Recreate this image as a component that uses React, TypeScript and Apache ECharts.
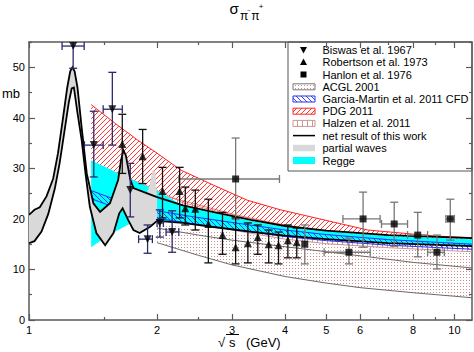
import React, { useEffect, useRef } from "react";
import * as echarts from "echarts";

const FONT = "'Liberation Sans', Arial, sans-serif";

// axis ticks (sqrt(s) in GeV, sigma in mb)
const xMajorTicks = [1, 2, 3, 4, 5, 6, 8, 10];
const xMinorTicks = [1.5, 2.5, 7, 9];
const yMajorTicks = [0, 10, 20, 30, 40, 50];
const yMinorTicks = [5, 15, 25, 35, 45, 55];
const xMin = 1;
const xMax = 11;
const yMax = 55;

// data points: [sqrt(s), sigma, sigmaLow, sigmaHigh, xLow, xHigh]
const biswas = [
  [1.27, 54.2, 49.8, 58.5, 1.196, 1.348],
  [1.42, 34.6, 28.3, 41.3, 1.35, 1.494],
  [1.57, 41.7, 34.6, 49.0, 1.494, 1.657],
  [1.73, 25.7, 20.4, 31.0, 1.73, 1.73],
  [1.9, 16.0, 13.2, 18.8, 1.81, 1.95],
  [2.03, 19.2, 16.4, 21.8, 2.0, 2.07],
  [2.17, 17.4, 13.4, 21.6, 2.1, 2.25],
];
const robertson = [
  [1.657, 34.8, 29.0, 40.7],
  [1.85, 32.4, 27.0, 37.7],
  [2.06, 25.5, 20.2, 30.2],
  [2.26, 25.5, 20.2, 30.2],
  [2.33, 22.1, 18.8, 26.3],
  [2.46, 22.0, 17.8, 25.7],
  [2.64, 19.0, 11.3, 23.9],
  [2.85, 16.8, 13.0, 21.3],
  [3.06, 14.4, 11.1, 20.2],
  [3.27, 15.2, 11.3, 19.2],
  [3.45, 16.4, 13.0, 18.8],
  [3.66, 15.0, 11.3, 17.8],
  [3.86, 14.8, 11.1, 17.4],
  [4.06, 15.8, 12.3, 18.8],
  [4.26, 15.4, 12.3, 18.2],
];
const hanlon = [
  [3.06, 27.9, 19.9, 36.0, 2.25, 3.88],
  [4.45, 15.0, 11.1, 18.8, 4.45, 4.45],
  [5.65, 13.4, 11.1, 16.2, 4.94, 6.34],
  [6.1, 20.0, 14.4, 25.3, 5.47, 6.69],
  [7.22, 19.0, 14.6, 23.3, 6.74, 7.76],
  [8.2, 16.8, 12.5, 21.3, 7.76, 8.65],
  [9.1, 13.4, 10.1, 16.8, 8.65, 9.47],
  [9.78, 20.0, 15.8, 23.9, 9.55, 10.0],
];

// bands: [sqrt(s), sigma]
const partialUpper = [
  [1.0, 20.8], [1.03, 21.8], [1.06, 22.3], [1.1, 24.5], [1.14, 28], [1.17, 33], [1.2, 39.5],
  [1.23, 46], [1.25, 49.2], [1.265, 50], [1.28, 49.2], [1.3, 46], [1.33, 38], [1.367, 29],
  [1.417, 23.1], [1.469, 21.4], [1.55, 23.1], [1.62, 27.7], [1.645, 31.5], [1.667, 33.6],
  [1.69, 32.5], [1.73, 27.8], [1.76, 26.1], [1.89, 25.1], [2.0, 24.3],
];
const partialLower = [
  [1.0, 15.2], [1.03, 15.6], [1.07, 17.5], [1.11, 21], [1.15, 26], [1.18, 31], [1.21, 37],
  [1.24, 43], [1.26, 45.8], [1.275, 46], [1.3, 41], [1.33, 35.6], [1.36, 28.5], [1.39, 22.4],
  [1.44, 17.2], [1.51, 14.8], [1.58, 17.2], [1.63, 21.1], [1.66, 22.1], [1.71, 19.8],
  [1.76, 17.8], [1.82, 17.2], [1.93, 18.5], [2.0, 19.6],
];
const partialSpikeUpper = [
  [1.89, 25.1], [1.92, 26.5], [1.95, 29.7], [1.98, 29.5], [2.0, 24.3],
];
const partialSpikeLower = [
  [1.89, 25.1], [2.0, 24.3],
];
const netUpper = [
  [2.0, 24.3], [2.3, 22.7], [2.77, 21.2], [3.32, 19.8], [4, 18.6], [5, 17.7], [7, 16.8], [11, 16.2],
];
const netLower = [
  [2.0, 19.6], [2.3, 19.2], [2.77, 18.3], [3.32, 17.5], [4, 16.7], [5, 16], [7, 15.2], [11, 14.6],
];
const reggeUpper = [
  [1.4, 31.6], [1.6, 29.3], [1.8, 27.3], [2.0, 25.6], [2.3, 22.6],
  [2.77, 21], [3.32, 19.6], [4, 18.4], [5, 17.5], [7, 16.6], [11, 16.0],
];
const reggeLower = [
  [1.4, 14.4], [1.52, 16.5], [1.73, 19.1], [2.0, 19.6], [2.3, 19.3], [2.77, 18.4],
  [3.32, 17.6], [4, 16.8], [5, 16.1], [7, 15.3], [11, 14.7],
];
const pdgUpper = [
  [1.4, 42.6], [1.6, 38.8], [1.8, 35.6], [2.0, 33], [2.27, 29.7], [2.71, 26.7], [3.26, 23.7],
  [3.9, 21.8], [4.6, 20.4], [6.26, 17.8], [9, 16.6], [11, 16.3],
];
const pdgLower = [
  [1.4, 31.2], [1.6, 29], [1.9, 26.5], [2.3, 23.2], [3, 20.8], [4, 18.8], [5, 17.4], [7, 16.4], [11, 15.6],
];
const garciaUpper = [
  [1.4, 25.6], [1.6, 23.8], [1.8, 22.5], [2.0, 21.6], [2.4, 20.5], [3, 19.3], [4, 17.8], [5, 16.9],
  [7, 15.9], [11, 15.0],
];
const garciaLower = [
  [1.4, 24.0], [1.6, 22.2], [1.8, 21.0], [2.0, 20.1], [2.4, 19.1], [3, 17.9], [4, 16.5], [5, 15.7],
  [7, 14.8], [11, 14.0],
];
const halzenUpper = [
  [1.4, 29.6], [1.6, 28], [1.8, 26.3], [2.0, 24.9], [2.4, 23.2], [3, 21], [4, 18.6], [5, 17.4], [7, 16.2], [11, 15.2],
];
const halzenLower = [
  [1.4, 24.6], [1.6, 23.6], [1.8, 22.6], [2.0, 21.9], [2.4, 19.8], [3, 17.8], [4, 16], [5, 15.1], [7, 14.3], [11, 13.5],
];
const acglUpper = [
  [2.0, 19], [3, 17.3], [4, 16], [5, 15.2], [7, 14.3], [11, 13.4],
];
const acglMiddle = [
  [2.0, 18.2], [2.5, 16.8], [3, 15.8], [4, 14.5], [5, 13.5], [6, 12.7], [8, 11.4], [11, 10.3],
];
const acglLower = [
  [2.0, 15.3], [2.5, 12.8], [3, 10.9], [4, 8.6], [5, 7.3], [6, 6.4], [8, 5.4], [10, 4.7], [11, 4.4],
];

const legendLabels = [
  "Biswas et al. 1967",
  "Robertson et al. 1973",
  "Hanlon et al. 1976",
  "ACGL 2001",
  "Garcia-Martin et al. 2011 CFD",
  "PDG 2011",
  "Halzen et al. 2011",
  "net result of this work",
  "partial waves",
  "Regge",
];

const lg = (v: number) => Math.log10(v);

function makePattern(size: number, draw: (ctx: CanvasRenderingContext2D) => void) {
  const c = document.createElement("canvas");
  c.width = size;
  c.height = size;
  const ctx = c.getContext("2d")!;
  draw(ctx);
  return { image: c.toDataURL(), repeat: "repeat", imageWidth: size, imageHeight: size };
}

function buildPatterns() {
  const red = makePattern(5, (ctx) => {
    ctx.strokeStyle = "#ff2020";
    ctx.lineWidth = 0.9;
    ctx.beginPath();
    ctx.moveTo(-1, 6); ctx.lineTo(6, -1);
    ctx.moveTo(-1, 1); ctx.lineTo(1, -1);
    ctx.moveTo(4, 6); ctx.lineTo(6, 4);
    ctx.stroke();
  });
  const blue = makePattern(5, (ctx) => {
    ctx.strokeStyle = "#2030ff";
    ctx.lineWidth = 0.9;
    ctx.beginPath();
    ctx.moveTo(-1, -1); ctx.lineTo(6, 6);
    ctx.moveTo(4, -1); ctx.lineTo(6, 1);
    ctx.moveTo(-1, 4); ctx.lineTo(1, 6);
    ctx.stroke();
  });
  const vert = makePattern(5, (ctx) => {
    ctx.strokeStyle = "#c89696";
    ctx.lineWidth = 1;
    ctx.beginPath();
    ctx.moveTo(2.5, 0); ctx.lineTo(2.5, 5);
    ctx.stroke();
  });
  const dots = makePattern(3, (ctx) => {
    ctx.fillStyle = "#d08c8c";
    ctx.fillRect(1, 1, 1, 1);
  });
  return { red, blue, vert, dots };
}

type Edge = { color: string; width: number } | null;

function bandSeries(
  upper: number[][], lower: number[][], fill: any, edgeUp: Edge, edgeLo: Edge, z: number,
  extraLine?: { pts: number[][]; color: string; width: number }
) {
  return {
    type: "custom",
    coordinateSystem: "cartesian2d",
    xAxisIndex: 0,
    yAxisIndex: 0,
    clip: true,
    silent: true,
    z,
    data: [[0.5, 10]],
    renderItem: (_params: any, api: any) => {
      const up = upper.map(([x, y]) => api.coord([lg(x), y]));
      const lo = lower.map(([x, y]) => api.coord([lg(x), y]));
      const children: any[] = [];
      if (fill) {
        children.push({
          type: "polygon",
          shape: { points: up.concat(lo.slice().reverse()) },
          style: { fill, stroke: null },
        });
      }
      if (extraLine) {
        const ex = extraLine.pts.map(([x, y]) => api.coord([lg(x), y]));
        children.push({ type: "polyline", shape: { points: ex }, style: { fill: null, stroke: extraLine.color, lineWidth: extraLine.width } });
      }
      if (edgeUp) children.push({ type: "polyline", shape: { points: up }, style: { fill: null, stroke: edgeUp.color, lineWidth: edgeUp.width } });
      if (edgeLo) children.push({ type: "polyline", shape: { points: lo }, style: { fill: null, stroke: edgeLo.color, lineWidth: edgeLo.width } });
      return { type: "group", children };
    },
  };
}

function errorSeries(points: number[][], color: string, z: number) {
  const data = points.map((p) => [lg(p[0]), p[1], p[2], p[3], lg(p.length > 4 ? p[4] : p[0]), lg(p.length > 5 ? p[5] : p[0])]);
  return {
    type: "custom",
    coordinateSystem: "cartesian2d",
    xAxisIndex: 0,
    yAxisIndex: 0,
    clip: true,
    silent: true,
    z,
    data,
    renderItem: (_params: any, api: any) => {
      const x = api.value(0), y = api.value(1), lo = api.value(2), hi = api.value(3), xl = api.value(4), xh = api.value(5);
      const c = api.coord([x, y]);
      const pLo = api.coord([x, lo]);
      const pHi = api.coord([x, hi]);
      const st = { stroke: color, lineWidth: 1.3 };
      const cap = 4;
      const children: any[] = [
        { type: "line", shape: { x1: c[0], y1: pLo[1], x2: c[0], y2: pHi[1] }, style: st },
        { type: "line", shape: { x1: c[0] - cap, y1: pLo[1], x2: c[0] + cap, y2: pLo[1] }, style: st },
        { type: "line", shape: { x1: c[0] - cap, y1: pHi[1], x2: c[0] + cap, y2: pHi[1] }, style: st },
      ];
      if (xh > xl) {
        const a = api.coord([xl, y]);
        const b = api.coord([xh, y]);
        children.push(
          { type: "line", shape: { x1: a[0], y1: c[1], x2: b[0], y2: c[1] }, style: st },
          { type: "line", shape: { x1: a[0], y1: c[1] - cap, x2: a[0], y2: c[1] + cap }, style: st },
          { type: "line", shape: { x1: b[0], y1: c[1] - cap, x2: b[0], y2: c[1] + cap }, style: st }
        );
      }
      return { type: "group", children };
    },
  };
}

function xAxisDef(position: string, ticks: number[], len: number, labels: boolean, line: boolean) {
  return {
    type: "value",
    position,
    min: lg(xMin),
    max: lg(xMax),
    axisLine: { show: line, onZero: false, lineStyle: { color: "#5a5a5a", width: 1.5 } },
    axisTick: { show: true, inside: true, length: len, customValues: ticks.map(lg), lineStyle: { color: "#5a5a5a", width: 1.2 } },
    axisLabel: {
      show: labels,
      customValues: ticks.map(lg),
      formatter: (v: number) => String(Math.round(Math.pow(10, v))),
      color: "#000",
      fontSize: 11,
      fontFamily: FONT,
      margin: 4,
    },
    splitLine: { show: false },
  };
}

function yAxisDef(position: string, ticks: number[], len: number, labels: boolean, line: boolean) {
  return {
    type: "value",
    position,
    min: 0,
    max: yMax,
    axisLine: { show: line, onZero: false, lineStyle: { color: "#5a5a5a", width: 1.5 } },
    axisTick: { show: true, inside: true, length: len, customValues: ticks, lineStyle: { color: "#5a5a5a", width: 1.2 } },
    axisLabel: { show: labels, customValues: ticks, color: "#000", fontSize: 11, fontFamily: FONT, margin: 4 },
    splitLine: { show: false },
  };
}

export default function App() {
  const ref = useRef<HTMLDivElement>(null);
  useEffect(() => {
    document.body.style.margin = "0";
    const chart = echarts.init(ref.current!, null, { renderer: "svg" });
    const P = buildPatterns();

    const rowY = [50, 62, 74.5, 86.8, 99, 111.2, 123.4, 135.6, 147.8, 160.5];
    const symX = 303.5;
    const txtX = 322.5;
    const legendChildren: any[] = [
      { type: "rect", shape: { x: 288, y: 42, width: 184, height: 129 }, style: { fill: "#fff", stroke: "#555", lineWidth: 1 } },
      { type: "polygon", shape: { points: [[symX - 3.5, rowY[0] - 3], [symX + 3.5, rowY[0] - 3], [symX, rowY[0] + 3.5]] }, style: { fill: "#000" } },
      { type: "polygon", shape: { points: [[symX - 3.5, rowY[1] + 3], [symX + 3.5, rowY[1] + 3], [symX, rowY[1] - 3.5]] }, style: { fill: "#000" } },
      { type: "rect", shape: { x: symX - 3, y: rowY[2] - 3, width: 6, height: 6 }, style: { fill: "#000" } },
      { type: "rect", shape: { x: 293, y: rowY[3] - 3, width: 22, height: 6 }, style: { fill: P.dots, stroke: "#777", lineWidth: 1 } },
      { type: "rect", shape: { x: 293, y: rowY[4] - 3, width: 22, height: 6 }, style: { fill: P.blue, stroke: "#2030ff", lineWidth: 1 } },
      { type: "rect", shape: { x: 293, y: rowY[5] - 3, width: 22, height: 6 }, style: { fill: P.red, stroke: "#ff2020", lineWidth: 1 } },
      { type: "rect", shape: { x: 293, y: rowY[6] - 3, width: 22, height: 6 }, style: { fill: P.vert, stroke: "#c89696", lineWidth: 1 } },
      { type: "line", shape: { x1: 293, y1: rowY[7], x2: 315, y2: rowY[7] }, style: { stroke: "#000", lineWidth: 1.5 } },
      { type: "rect", shape: { x: 293, y: rowY[8] - 3, width: 22, height: 6.5 }, style: { fill: "#d9d9d9" } },
      { type: "rect", shape: { x: 293, y: rowY[9] - 3.5, width: 22, height: 7 }, style: { fill: "#00ffff" } },
    ];
    legendLabels.forEach((t, i) => {
      legendChildren.push({
        type: "text",
        style: { x: txtX, y: rowY[i], text: t, fill: "#000", font: `11px ${FONT}`, textVerticalAlign: "middle" },
      });
    });

    const option: any = {
      animation: false,
      backgroundColor: "#fff",
      grid: { left: 29, right: 2, top: 42, bottom: 32, containLabel: false },
      xAxis: [
        xAxisDef("bottom", xMajorTicks, 6, true, true),
        xAxisDef("bottom", xMinorTicks, 3, false, false),
        xAxisDef("top", xMajorTicks, 6, false, true),
        xAxisDef("top", xMinorTicks, 3, false, false),
      ],
      yAxis: [
        yAxisDef("left", yMajorTicks, 6, true, true),
        yAxisDef("left", yMinorTicks, 3, false, false),
        yAxisDef("right", yMajorTicks, 6, false, true),
        yAxisDef("right", yMinorTicks, 3, false, false),
      ],
      graphic: [
        { type: "text", z: 100, style: { x: 229.5, y: 8, text: "σ", fill: "#000", font: `15px ${FONT}`, textVerticalAlign: "middle" } },
        { type: "text", z: 100, style: { x: 240, y: 16.3, text: "π", fill: "#000", font: `12px ${FONT}`, textVerticalAlign: "middle" } },
        { type: "text", z: 100, style: { x: 247.3, y: 9.5, text: "−", fill: "#000", font: `6px ${FONT}`, textVerticalAlign: "middle" } },
        { type: "text", z: 100, style: { x: 251.3, y: 16.3, text: "π", fill: "#000", font: `12px ${FONT}`, textVerticalAlign: "middle" } },
        { type: "text", z: 100, style: { x: 258.8, y: 6.5, text: "+", fill: "#000", font: `8px ${FONT}`, textVerticalAlign: "middle" } },
        { type: "text", z: 100, style: { x: 2, y: 93, text: "mb", fill: "#000", font: `13px ${FONT}`, textVerticalAlign: "middle" } },
        { type: "text", z: 100, style: { x: 218, y: 342, text: "√", fill: "#000", font: `13px ${FONT}`, textVerticalAlign: "middle" } },
        { type: "line", z: 100, shape: { x1: 226, y1: 334.5, x2: 239, y2: 334.5 }, style: { stroke: "#000", lineWidth: 1 } },
        { type: "text", z: 100, style: { x: 229, y: 342, text: "s", fill: "#000", font: `13px ${FONT}`, textVerticalAlign: "middle" } },
        { type: "text", z: 100, style: { x: 246, y: 342, text: "(GeV)", fill: "#000", font: `13px ${FONT}`, textVerticalAlign: "middle" } },
        { type: "group", z: 100, children: legendChildren },
      ],
      series: [
        bandSeries(acglUpper, acglLower, P.dots, null, { color: "#6a6a6a", width: 1 }, 1, { pts: acglMiddle, color: "#6a6a6a", width: 1 }),
        bandSeries(halzenUpper, halzenLower, P.vert, { color: "#c89696", width: 1 }, { color: "#c89696", width: 1 }, 2),
        bandSeries(pdgUpper, pdgLower, P.red, { color: "#ff2020", width: 1 }, { color: "#ff6060", width: 0.8 }, 3),
        bandSeries(reggeUpper, reggeLower, "#00ffff", null, null, 4),
        bandSeries(garciaUpper, garciaLower, P.blue, { color: "#2030ff", width: 1 }, { color: "#2030ff", width: 1 }, 5),
        bandSeries(partialSpikeUpper, partialSpikeLower, "#d9d9d9", null, null, 6),
        bandSeries(partialUpper, partialLower, "#d9d9d9", { color: "#000", width: 1.8 }, { color: "#000", width: 1.8 }, 6),
        bandSeries(netUpper, netLower, null, { color: "#000", width: 1.8 }, { color: "#000", width: 1.8 }, 7),
        errorSeries(hanlon, "#777777", 8),
        errorSeries(robertson, "#111111", 8),
        errorSeries(biswas, "#2a2a70", 8),
        {
          type: "scatter", z: 9, silent: true, xAxisIndex: 0, yAxisIndex: 0,
          symbol: "triangle", symbolRotate: 180, symbolSize: 8,
          itemStyle: { color: "#000" },
          data: biswas.map((p) => [lg(p[0]), p[1]]),
        },
        {
          type: "scatter", z: 9, silent: true, xAxisIndex: 0, yAxisIndex: 0,
          symbol: "triangle", symbolSize: 8,
          itemStyle: { color: "#000" },
          data: robertson.map((p) => [lg(p[0]), p[1]]),
        },
        {
          type: "scatter", z: 9, silent: true, xAxisIndex: 0, yAxisIndex: 0,
          symbol: "rect", symbolSize: 7,
          itemStyle: { color: "#000" },
          data: hanlon.map((p) => [lg(p[0]), p[1]]),
        },
      ],
    };
    chart.setOption(option);
    return () => chart.dispose();
  }, []);
  return <div ref={ref} style={{ position: "fixed", left: 0, top: 0, width: 474, height: 352 }} />;
}
